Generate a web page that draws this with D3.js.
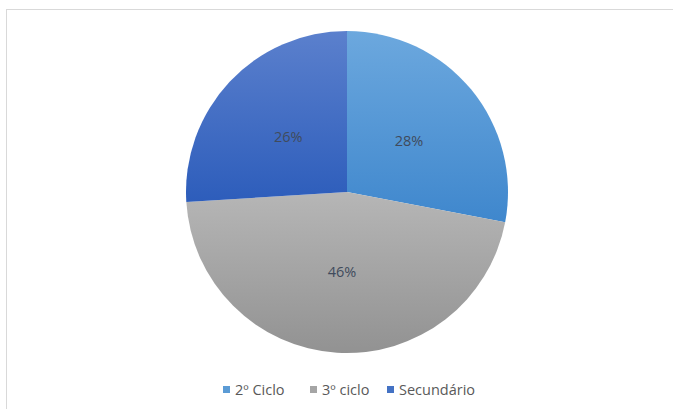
<!DOCTYPE html>
<html>
<head>
<meta charset="utf-8">
<script src="https://cdn.jsdelivr.net/npm/d3@7"></script>
<style>
	body { margin: 0; background: #fff; }
	text { font-family: "Open Sans", "Noto Sans", sans-serif; }
</style>
</head>
<body>
<svg id="chart" width="673" height="409"></svg>
<script>
var categories = ["2º Ciclo", "3º ciclo", "Secundário"];
var values = [28, 46, 26];
var colorsTop = ["#6ca8de", "#b6b6b6", "#5b80cd"];
var colorsBottom = ["#3f87cd", "#929292", "#2d5dbb"];
var legendColors = ["#5b9bd5", "#a5a5a5", "#4472c4"];

var width = 673, height = 409;
var cx = 347, cy = 192, radius = 161;

var svg = d3.select("#chart");

// chart area border (only left and top visible)
svg.append("rect")
	.attr("x", 6.5)
	.attr("y", 9.5)
	.attr("width", 720)
	.attr("height", 430)
	.attr("fill", "none")
	.attr("stroke", "#d9d9d9")
	.attr("stroke-width", 1);

var defs = svg.append("defs");
categories.forEach(function (c, i) {
	var g = defs.append("linearGradient")
		.attr("id", "grad" + i)
		.attr("x1", 0).attr("y1", 0)
		.attr("x2", 0).attr("y2", 1);
	g.append("stop").attr("offset", "0%").attr("stop-color", colorsTop[i]);
	g.append("stop").attr("offset", "100%").attr("stop-color", colorsBottom[i]);
});

var pie = d3.pie().sort(null).value(function (d) { return d; });
var arcs = pie(values);

var arc = d3.arc().innerRadius(0).outerRadius(radius);

var g = svg.append("g").attr("transform", "translate(" + cx + "," + cy + ")");

g.selectAll("path.slice")
	.data(arcs)
	.enter()
	.append("path")
	.attr("class", "slice")
	.attr("d", arc)
	.attr("fill", function (d, i) { return "url(#grad" + i + ")"; })
	.attr("stroke", "none");

var total = d3.sum(values);
g.selectAll("text.label")
	.data(arcs)
	.enter()
	.append("text")
	.attr("class", "label")
	.attr("transform", function (d) { return "translate(" + arc.centroid(d) + ")"; })
	.attr("text-anchor", "middle")
	.attr("dy", "0.35em")
	.attr("font-size", 14.5)
	.attr("fill", "#404b5c")
	.text(function (d) { return Math.round(d.value / total * 100) + "%"; });

// legend
var legendX = [223, 310, 387];
var legend = svg.append("g");
categories.forEach(function (c, i) {
	legend.append("rect")
		.attr("x", legendX[i])
		.attr("y", 386)
		.attr("width", 7)
		.attr("height", 7)
		.attr("fill", legendColors[i]);
	legend.append("text")
		.attr("x", legendX[i] + 12)
		.attr("y", 390)
		.attr("dy", "0.35em")
		.attr("font-size", 14.5)
		.attr("fill", "#595959")
		.text(c);
});
</script>
</body>
</html>
